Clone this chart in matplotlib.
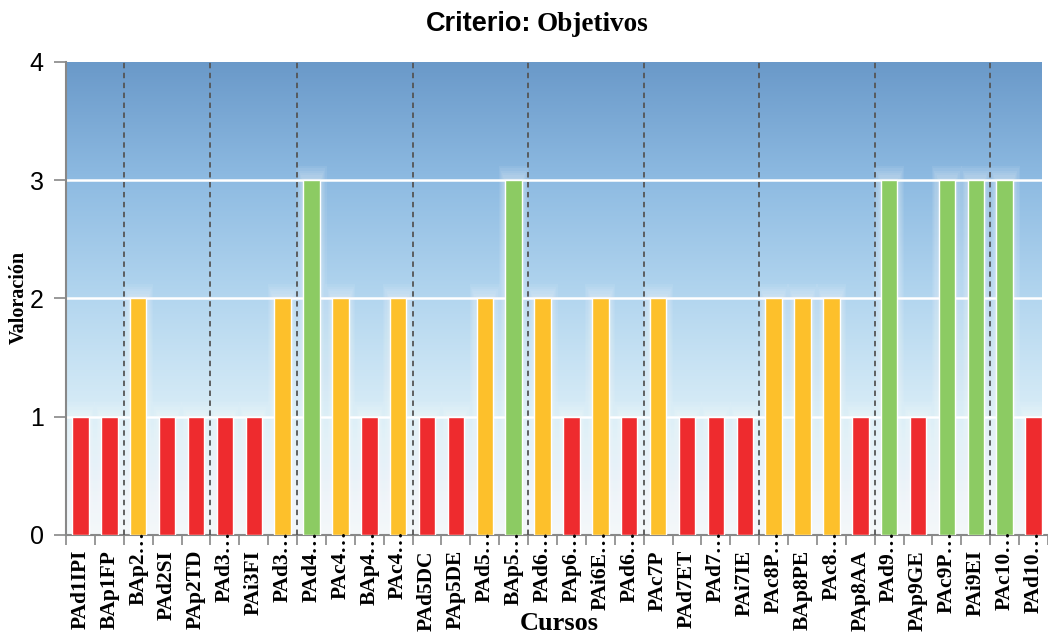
import numpy as np
import matplotlib
matplotlib.use("Agg")
import matplotlib.pyplot as plt
import matplotlib.transforms as mtransforms
from matplotlib.colors import LinearSegmentedColormap

cursos = ["PAd1IPI", "BAp1FP", "BAp2…", "PAd2SI", "PAp2TD", "PAd3…", "PAi3FI",
          "PAd3…", "PAd4…", "PAc4…", "BAp4…", "PAc4…", "PAd5DC", "PAp5DE",
          "PAd5…", "BAp5…", "PAd6…", "PAp6…", "PAi6E…", "PAd6…", "PAc7P",
          "PAd7ET", "PAd7…", "PAi7IE", "PAc8P…", "BAp8PE", "PAc8…", "PAp8AA",
          "PAd9…", "PAp9GE", "PAc9P…", "PAi9EI", "PAc10…", "PAd10…"]
valoracion = [1, 1, 2, 1, 1, 1, 1, 2, 3, 2, 1, 2, 1, 1, 2, 3, 2, 1, 2, 1,
              2, 1, 1, 1, 2, 2, 2, 1, 3, 1, 3, 3, 3, 1]
# group separators fall after these course indices
separadores = [1, 4, 7, 11, 15, 19, 23, 27, 31]

colores_nivel = {1: "#ee2b2e", 2: "#fdc02b", 3: "#8ccb63"}

fig = plt.figure(figsize=(10.48, 6.39), dpi=100)
ax = fig.add_axes([0.063, 0.163, 0.937, 0.740])

x = np.arange(len(cursos))
xlim = (-0.45, 33.28)
ax.set_xlim(*xlim)
ax.set_ylim(0, 4)

# vertical background gradient: blue at the top fading to near white
cmap = LinearSegmentedColormap.from_list(
    "cielo",
    [(0.0, "#f5f8fa"), (0.25, "#d9edf7"), (0.5, "#b3d6ef"),
     (0.75, "#8ebbe2"), (1.0, "#6a99c9")])
grad = np.linspace(0, 1, 256).reshape(-1, 1)
ax.imshow(grad, extent=(xlim[0], xlim[1], 0, 4), origin="lower",
          aspect="auto", cmap=cmap, zorder=0)

for yv in [1, 2, 3]:
    ax.axhline(yv, color="white", lw=1.8, zorder=1)

for s in separadores:
    ax.axvline(s + 0.5, color="#555555", lw=1.3, ls=(0, (3, 2.5)), zorder=4)

# soft white halo around each bar
for k in range(6):
    w = 0.56 + 0.08 * (k + 1)
    ax.bar(x, np.array(valoracion) + 0.02 * (k + 1), width=w,
           color="white", alpha=0.07, lw=0, zorder=2)

colores = [colores_nivel[v] for v in valoracion]
ax.bar(x, valoracion, width=0.57, color=colores, edgecolor="white",
       linewidth=1.0, zorder=3)

ax.set_yticks([0, 1, 2, 3, 4])
ax.set_yticklabels(["0", "1", "2", "3", "4"], fontsize=18,
                   family=["Liberation Sans", "DejaVu Sans"])
ax.tick_params(axis="y", length=9, width=1.2, color="#888888", pad=7)

# category ticks sit between bars; names are drawn under each bar
ax.set_xticks(np.arange(-0.5, len(cursos) + 0.5, 1))
ax.set_xticklabels([])
ax.tick_params(axis="x", length=7, width=1.2, color="#888888")

base = mtransforms.blended_transform_factory(ax.transData, ax.transAxes)
for xi, nombre in zip(x, cursos):
    # truncated names keep the stem aligned and let the ellipsis rise
    dy = (-11 + 14) if nombre.endswith("…") else -11
    tr = base + mtransforms.ScaledTranslation(0, dy / 72, fig.dpi_scale_trans)
    ax.text(xi, 0, nombre, transform=tr, rotation=90, ha="center", va="top",
            fontsize=15.5, fontweight="bold", family="Liberation Serif",
            zorder=5, clip_on=False)

for side in ["top", "right"]:
    ax.spines[side].set_visible(False)
for side in ["left", "bottom"]:
    ax.spines[side].set_color("#888888")
    ax.spines[side].set_linewidth(1.5)

# title mixes a sans-serif and a serif part
fig.text(0.5075, 0.962, "Criterio:", ha="right", va="center",
         fontsize=19.5, fontweight="bold", family="Liberation Sans")
fig.text(0.5125, 0.962, "Objetivos", ha="left", va="center",
         fontsize=19.5, fontweight="bold", family="Liberation Serif")
fig.text(0.018, 0.534, "Valoración", rotation=90, ha="center", va="center",
         fontsize=14.5, fontweight="bold", family="Liberation Serif")
fig.text(0.534, 0.025, "Cursos", ha="center", va="center",
         fontsize=19, fontweight="bold", family="Liberation Serif")

fig.savefig("out.png", dpi=100)
